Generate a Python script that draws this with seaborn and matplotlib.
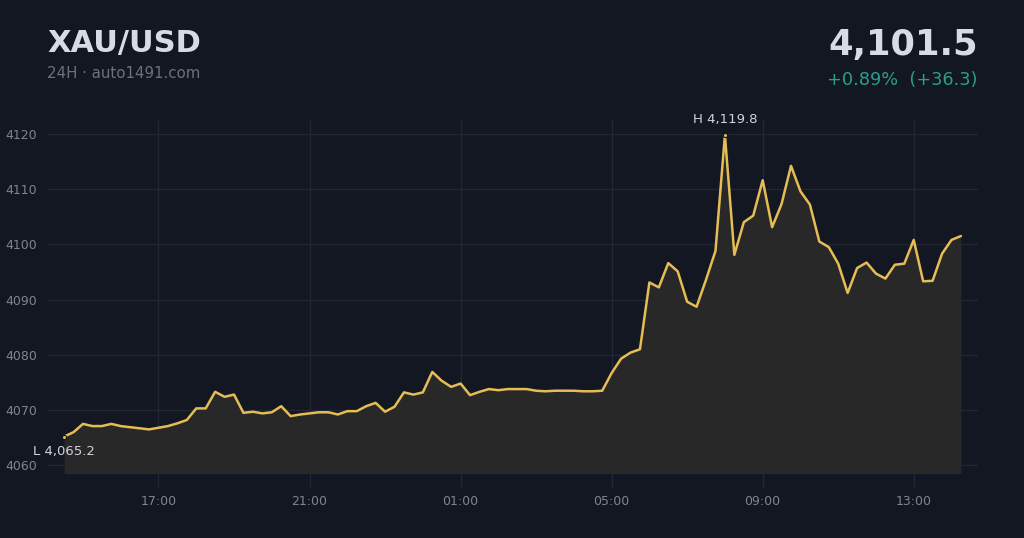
import pandas as pd
import matplotlib
matplotlib.use('Agg')
import matplotlib.pyplot as plt
import matplotlib.dates as mdates
import seaborn as sns

# 15-minute XAU/USD prices over 24h
start_time = '2024-01-01 14:30'
prices = [
    4065.2, 4066.0, 4067.5, 4067.1, 4067.1, 4067.5, 4067.1, 4066.9, 4066.7, 4066.5,
    4066.8, 4067.1, 4067.6, 4068.2, 4070.3, 4070.3, 4073.3, 4072.4, 4072.8, 4069.5,
    4069.7, 4069.4, 4069.6, 4070.7, 4068.9, 4069.2, 4069.4, 4069.6, 4069.6, 4069.2,
    4069.8, 4069.8, 4070.7, 4071.3, 4069.7, 4070.6, 4073.2, 4072.8, 4073.2, 4076.9,
    4075.3, 4074.2, 4074.8, 4072.7, 4073.3, 4073.8, 4073.6, 4073.8, 4073.8, 4073.8,
    4073.5, 4073.4, 4073.5, 4073.5, 4073.5, 4073.4, 4073.4, 4073.5, 4076.7, 4079.3,
    4080.4, 4081.0, 4093.1, 4092.2, 4096.6, 4095.1, 4089.6, 4088.7, 4093.6, 4098.8,
    4119.8, 4098.1, 4104.0, 4105.2, 4111.6, 4103.1, 4107.3, 4114.2, 4109.6, 4107.2,
    4100.5, 4099.5, 4096.5, 4091.2, 4095.7, 4096.7, 4094.7, 4093.8, 4096.3, 4096.5,
    4100.8, 4093.3, 4093.4, 4098.3, 4100.8, 4101.5,
]
y_ticks = [4060, 4070, 4080, 4090, 4100, 4110, 4120]
tick_hours = [1, 5, 9, 13, 17, 21]

df = pd.DataFrame({
    'time': pd.date_range(start_time, periods=len(prices), freq='15min'),
    'price': prices,
})

bg = '#131722'
line_col = '#e6bd55'
grid_col = '#232733'
tick_col = '#80848e'

sns.set_theme(style='dark')
plt.rcParams['font.family'] = ['DejaVu Sans']

fig = plt.figure(figsize=(10.24, 5.38), dpi=100, facecolor=bg)
ax = fig.add_axes([0.046, 0.093, 0.909, 0.686])
ax.set_facecolor(bg)

ax.fill_between(df['time'], df['price'], 4058.5, color='#282828', lw=0, zorder=1)
sns.lineplot(data=df, x='time', y='price', color=line_col, lw=1.8, ax=ax, zorder=3)

# low / high markers
lo = df.loc[df['price'].idxmin()]
hi = df.loc[df['price'].idxmax()]
ax.scatter([lo['time'], hi['time']], [lo['price'], hi['price']], s=9, color=line_col,
           edgecolor=bg, linewidth=0.8, zorder=4)
ax.annotate(f"L {lo['price']:,.1f}", (lo['time'], lo['price']), xytext=(-22.3, -11),
            textcoords='offset points', color='#d0d3dc', fontsize=9.5, ha='left', va='center')
ax.annotate(f"H {hi['price']:,.1f}", (hi['time'], hi['price']), xytext=(0, 11),
            textcoords='offset points', color='#d0d3dc', fontsize=9.5, ha='center', va='center')

pad = pd.Timedelta(minutes=27)
ax.set_xlim(df['time'].iloc[0] - pad, df['time'].iloc[-1] + pad)
ax.set_ylim(4055.9, 4122.7)
ax.set_yticks(y_ticks)
ax.xaxis.set_major_locator(mdates.HourLocator(byhour=tick_hours))
ax.xaxis.set_major_formatter(mdates.DateFormatter('%H:%M'))

ax.grid(True, color=grid_col, lw=0.9)
ax.tick_params(colors=tick_col, labelsize=9, length=0)
ax.tick_params(axis='y', pad=7)
ax.tick_params(axis='x', pad=5)
ax.set_xlabel('')
ax.set_ylabel('')
for s in ax.spines.values():
    s.set_visible(False)

# header
last = prices[-1]
chg = last - prices[0]
pct = chg / prices[0] * 100
fig.text(0.046, 0.92, 'XAU/USD', color='#d8dae5', fontsize=22, fontweight='bold', va='center')
fig.text(0.046, 0.863, '24H · auto1491.com', color='#6d717c', fontsize=10.8, va='center')
fig.text(0.955, 0.917, f'{last:,.1f}', color='#d8dae5', fontsize=25.4, fontweight='bold',
         va='center', ha='right')
fig.text(0.955, 0.851, f'+{pct:.2f}%  (+{chg:.1f})', color='#2a9d8c', fontsize=12.8,
         va='center', ha='right')

fig.savefig('out.png', dpi=100, facecolor=bg)
